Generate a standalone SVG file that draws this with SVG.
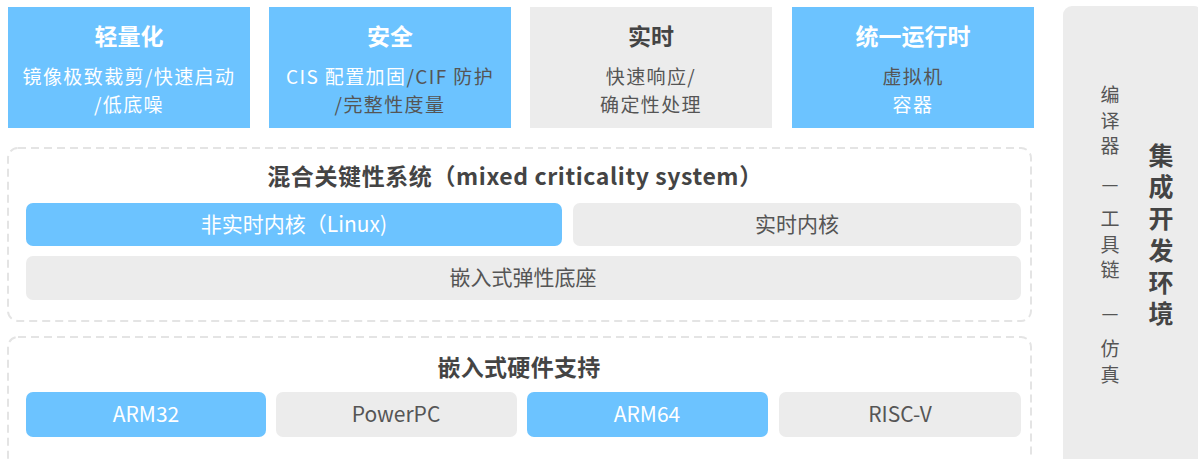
<svg xmlns="http://www.w3.org/2000/svg" width="1198" height="459" viewBox="0 0 1198 459">
<style>
text{font-family:"Noto Sans CJK SC","Noto Sans",sans-serif;}
.blue{fill:#6CC3FF;}
.gray{fill:#ECECEC;}
.dash{fill:none;stroke:#E4E4E4;stroke-width:2;stroke-dasharray:8 5;}
.h{font-size:23px;font-weight:bold;text-anchor:middle;}
.s{font-size:19px;text-anchor:middle;letter-spacing:1.4px;}
.w{fill:#FFFFFF;}
.d{fill:#555555;}
.dt{fill:#444444;}
.lb{font-size:21px;text-anchor:middle;}
.v1{font-size:19px;fill:#555555;writing-mode:vertical-rl;letter-spacing:6.5px;}
.v2{font-size:25px;font-weight:bold;fill:#444444;writing-mode:vertical-rl;letter-spacing:6.8px;}
</style>
<rect width="1198" height="459" fill="#FFFFFF"/>
<g id="connectors"></g>
<g id="node-light">
<rect class="blue" x="8" y="7" width="242" height="121"/>
<text class="h w" x="129" y="45">轻量化</text>
<text class="s w"><tspan x="129" y="83.5">镜像极致裁剪/快速启动</tspan><tspan x="129" y="111.5">/低底噪</tspan></text>
</g>
<g id="node-safe">
<rect class="blue" x="269" y="7" width="242" height="121"/>
<text class="h w" x="390" y="45">安全</text>
<text class="s"><tspan x="390" y="83.5" class="w">CIS 配置加固</tspan><tspan class="d">/CIF 防护</tspan><tspan class="d" x="390" y="111.5">/完整性度量</tspan></text>
</g>
<g id="node-rt">
<rect class="gray" x="530" y="7" width="242" height="121"/>
<text class="h dt" x="651" y="45">实时</text>
<text class="s d"><tspan x="651" y="83.5">快速响应/</tspan><tspan x="651" y="111.5">确定性处理</tspan></text>
</g>
<g id="node-runtime">
<rect class="blue" x="792" y="7" width="242" height="121"/>
<text class="h w" x="913" y="45">统一运行时</text>
<text class="s"><tspan class="d" x="913" y="83.5">虚拟机</tspan><tspan class="w" x="913" y="111.5">容器</tspan></text>
</g>
<g id="node-mcs">
<rect class="dash" x="8" y="148" width="1023" height="173" rx="10"/>
<text class="h dt" x="515" y="185" letter-spacing="0.6">混合关键性系统（mixed criticality system）</text>
</g>
<g id="node-nonrt">
<rect class="blue" x="26" y="203" width="536" height="43" rx="7"/>
<text class="lb w" x="294" y="232">非实时内核（Linux)</text>
</g>
<g id="node-rtkernel">
<rect class="gray" x="573" y="203" width="448" height="43" rx="7"/>
<text class="lb d" x="797" y="232">实时内核</text>
</g>
<g id="node-base">
<rect class="gray" x="26" y="256" width="995" height="44" rx="7"/>
<text class="lb d" x="523" y="285">嵌入式弹性底座</text>
</g>
<g id="node-hw">
<rect class="dash" x="8" y="337" width="1023" height="135" rx="10"/>
<text class="h dt" x="519" y="376" letter-spacing="0.3">嵌入式硬件支持</text>
</g>
<g id="node-arm32">
<rect class="blue" x="26" y="392" width="240" height="45" rx="7"/>
<text class="lb w" x="146" y="422">ARM32</text>
</g>
<g id="node-ppc">
<rect class="gray" x="276" y="392" width="241" height="45" rx="7"/>
<text class="lb d" x="396" y="422">PowerPC</text>
</g>
<g id="node-arm64">
<rect class="blue" x="527" y="392" width="241" height="45" rx="7"/>
<text class="lb w" x="647" y="422">ARM64</text>
</g>
<g id="node-riscv">
<rect class="gray" x="779" y="392" width="242" height="45" rx="7"/>
<text class="lb d" x="900" y="422">RISC-V</text>
</g>
<g id="node-ide">
<rect class="gray" x="1063" y="6" width="140" height="470" rx="9"/>
<text class="v1" x="1110" y="85.5">编译器</text>
<text class="d" font-size="19" text-anchor="middle" x="1110" y="191">—</text>
<text class="v1" x="1110" y="209.5">工具链</text>
<text class="d" font-size="19" text-anchor="middle" x="1110" y="320">—</text>
<text class="v1" x="1110" y="339.5">仿真</text>
<text class="v2" x="1161" y="142.5">集成开发环境</text>
</g>
</svg>
